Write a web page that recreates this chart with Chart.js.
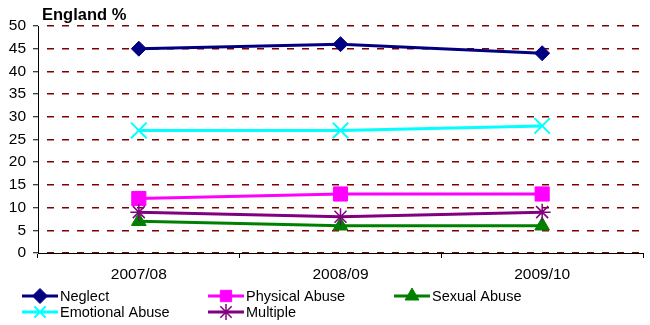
<!DOCTYPE html>
<html>
<head>
<meta charset="utf-8">
<script src="https://cdn.jsdelivr.net/npm/chart.js@4/dist/chart.umd.min.js"></script>
<style>
  html, body { margin: 0; padding: 0; background: #fff; }
  #wrap { width: 650px; height: 325px; position: relative; }
</style>
</head>
<body>
<div id="wrap"><canvas id="c" width="650" height="325"></canvas></div>
<script>
// Categories and series (percent of children, England)
const years = ['2007/08', '2008/09', '2009/10'];
const neglect = [45, 46, 44];
const physicalAbuse = [12, 13, 13];
const sexualAbuse = [7, 6, 6];
const emotionalAbuse = [27, 27, 28];
const multiple = [9, 8, 9];
const yTicks = [0, 5, 10, 15, 20, 25, 30, 35, 40, 45, 50];

const FONT = '"Liberation Sans", Arial, sans-serif';

const series = [
  { label: 'Neglect', data: neglect, color: '#000080', style: 'rectRot', r: 7.5, bw: 1 },
  { label: 'Physical Abuse', data: physicalAbuse, color: '#FF00FF', style: 'rect', r: 10, bw: 1 },
  { label: 'Sexual Abuse', data: sexualAbuse, color: '#008000', style: 'triangle', r: 8.5, bw: 1 },
  { label: 'Emotional Abuse', data: emotionalAbuse, color: '#00FFFF', style: 'crossRot', r: 11, bw: 2 },
  { label: 'Multiple', data: multiple, color: '#800080', style: 'star', r: 8.5, bw: 1.5 }
];

const datasets = series.map((s, i) => ({
  label: s.label,
  data: s.data,
  borderColor: s.color,
  backgroundColor: s.color,
  borderWidth: 3,
  pointStyle: s.style,
  pointRadius: s.r,
  pointHoverRadius: s.r,
  pointBorderWidth: s.bw,
  pointBorderColor: s.color,
  pointBackgroundColor: s.color,
  tension: 0,
  clip: false,
  order: series.length - i
}));

// Title and the line-and-marker legend underneath the plot
const decorations = {
  id: 'decorations',
  afterDraw(chart) {
    const ctx = chart.ctx;
    ctx.save();
    ctx.fillStyle = '#000';
    ctx.font = 'bold 16.5px ' + FONT;
    ctx.textAlign = 'left';
    ctx.textBaseline = 'middle';
    ctx.fillText('England %', 42, 15);

    const colX = [22, 208, 394];
    const rowY = [296, 312];
    ctx.font = '14.5px ' + FONT;
    chart.data.datasets.forEach((ds, i) => {
      const x0 = colX[i % 3];
      const y = rowY[Math.floor(i / 3)];
      ctx.strokeStyle = ds.borderColor;
      ctx.lineWidth = 3;
      ctx.setLineDash([]);
      ctx.beginPath();
      ctx.moveTo(x0, y);
      ctx.lineTo(x0 + 36, y);
      ctx.stroke();
      ctx.fillStyle = ds.pointBackgroundColor;
      ctx.strokeStyle = ds.pointBorderColor;
      ctx.lineWidth = ds.pointBorderWidth;
      Chart.helpers.drawPoint(ctx, {
        pointStyle: ds.pointStyle,
        radius: Math.min(ds.pointRadius, 8),
        borderWidth: ds.pointBorderWidth,
        rotation: 0
      }, x0 + 18, y);
      ctx.fillStyle = '#000';
      ctx.textBaseline = 'middle';
      ctx.fillText(ds.label, x0 + 38, y + 1);
    });
    ctx.restore();
  }
};

new Chart(document.getElementById('c'), {
  type: 'line',
  data: { labels: years, datasets },
  plugins: [decorations],
  options: {
    responsive: false,
    animation: false,
    events: [],
    layout: { autoPadding: false, padding: { top: 26, right: 7, bottom: 0, left: 0 } },
    plugins: { legend: { display: false }, tooltip: { enabled: false }, title: { display: false } },
    scales: {
      x: {
        type: 'category',
        offset: true,
        afterFit(scale) {
          scale.height = 72;
          scale.paddingLeft = 0;
          scale.paddingRight = 0;
        },
        grid: {
          offset: true,
          drawOnChartArea: false,
          drawTicks: true,
          tickLength: 5,
          tickColor: '#000',
          tickWidth: 1
        },
        border: { display: true, color: '#000', width: 1 },
        ticks: { color: '#000', font: { family: FONT, size: 15.5 }, padding: 7, maxRotation: 0 }
      },
      y: {
        min: 0,
        max: 50,
        afterFit(scale) {
          scale.width = 38;
          scale.paddingTop = 0;
          scale.paddingBottom = 0;
        },
        afterBuildTicks(scale) { scale.ticks = yTicks.map(v => ({ value: v })); },
        grid: {
          color: '#800000',
          lineWidth: 1.5,
          drawTicks: true,
          tickLength: 5,
          tickColor: '#000',
          tickWidth: 1
        },
        border: { display: true, color: '#000', width: 1, dash: [7, 8], dashOffset: 7 },
        ticks: { color: '#000', font: { family: FONT, size: 15.5 }, padding: 7 }
      }
    }
  }
});
</script>
</body>
</html>
